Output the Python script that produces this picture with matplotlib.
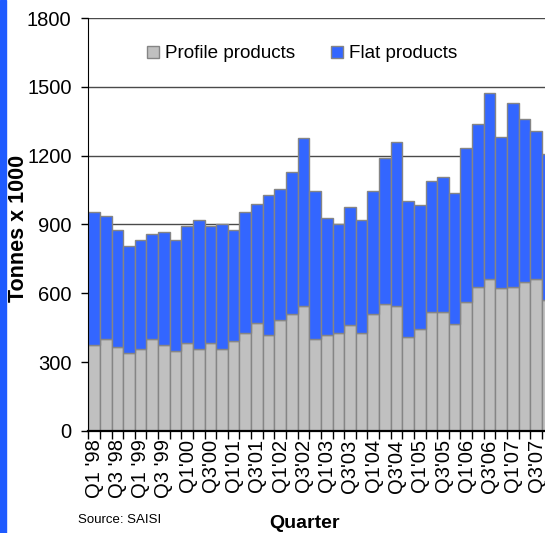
"""Quarterly steel deliveries, stacked bars"""

import numpy as np
import matplotlib
matplotlib.use('Agg')
import matplotlib.pyplot as plt
from matplotlib.patches import Rectangle

plt.rcParams['font.family'] = ['Liberation Sans', 'DejaVu Sans']

# values (tonnes x 1000), Q1 '98 .. Q4 '07
profile = [375, 400, 367, 341, 356, 400, 375, 349, 384, 356,
           384, 356, 392, 426, 469, 417, 484, 511, 545, 400,
           417, 426, 461, 426, 510, 554, 545, 410, 443, 519,
           519, 468, 562, 629, 662, 622, 629, 648, 662, 571]
flat = [578, 536, 509, 467, 478, 459, 492, 485, 508, 562,
        508, 546, 484, 527, 519, 613, 571, 619, 731, 647,
        510, 475, 517, 492, 536, 637, 713, 594, 543, 569,
        587, 568, 671, 708, 810, 661, 799, 713, 647, 636]
tick_labels = ["Q1 '98", "Q3 '98", "Q1 '99", "Q3 '99", "Q1'00", "Q3'00",
               "Q1'01", "Q3'01", "Q1'02", "Q3'02", "Q1'03", "Q3'03",
               "Q1'04", "Q3'04", "Q1'05", "Q3'05", "Q1'06", "Q3'06",
               "Q1'07", "Q3'07"]

GREY = '#C0C0C0'
BLUE = '#3366FF'
EDGE = '#858585'

fig = plt.figure(figsize=(5.45, 5.33), dpi=100)
ax = fig.add_axes([0.162, 0.1914, 0.838, 0.7748])

x = np.arange(len(profile))
ax.bar(x, profile, width=1.0, color=GREY, edgecolor=EDGE, linewidth=1,
       label='Profile products', zorder=2)
ax.bar(x, flat, width=1.0, bottom=profile, color=BLUE, edgecolor=EDGE,
       linewidth=1, label='Flat products', zorder=2)

ax.set_xlim(-0.5, 38.77)
ax.set_ylim(0, 1800)
ax.set_yticks(np.arange(0, 1801, 300))
ax.yaxis.grid(True, color='#4a4a4a', linewidth=1, zorder=0)
ax.set_axisbelow(True)

# category boundaries carry the tick marks, labels sit on every other bar
ax.set_xticks(np.arange(-0.5, 39.5, 1.0))
ax.set_xticklabels([])
ax.set_xticks(np.arange(0, 40, 2), minor=True)
ax.set_xticklabels(tick_labels, minor=True, rotation=90, fontsize=14.5)
ax.tick_params(axis='x', which='major', length=6, width=1, color='black')
ax.tick_params(axis='x', which='minor', length=0, pad=6)
ax.tick_params(axis='y', length=5, width=1, pad=7, labelsize=14.5)

for side in ['top', 'right']:
    ax.spines[side].set_visible(False)
ax.spines['left'].set_color('black')
ax.spines['bottom'].set_color('black')
ax.spines['bottom'].set_linewidth(1.6)

ax.legend(loc='center', bbox_to_anchor=(0.468, 0.913), ncol=2, frameon=False,
          handlelength=0.65, handleheight=0.65, handletextpad=0.3,
          columnspacing=1.9, fontsize=13.6)

fig.text(0.034, 0.572, 'Tonnes x 1000', rotation=90, ha='center', va='center',
         fontweight='bold', fontsize=15.5)
fig.text(0.558, 0.017, 'Quarter', ha='center', va='center',
         fontweight='bold', fontsize=14)
fig.text(0.143, 0.024, 'Source: SAISI', ha='left', va='center', fontsize=9.5)

# blue border strip down the left edge of the original slide
fig.patches.append(Rectangle((0, 0), 6 / 545, 1, transform=fig.transFigure,
                             color='#1F5BFF', zorder=0))

fig.savefig('out.png', dpi=100)
